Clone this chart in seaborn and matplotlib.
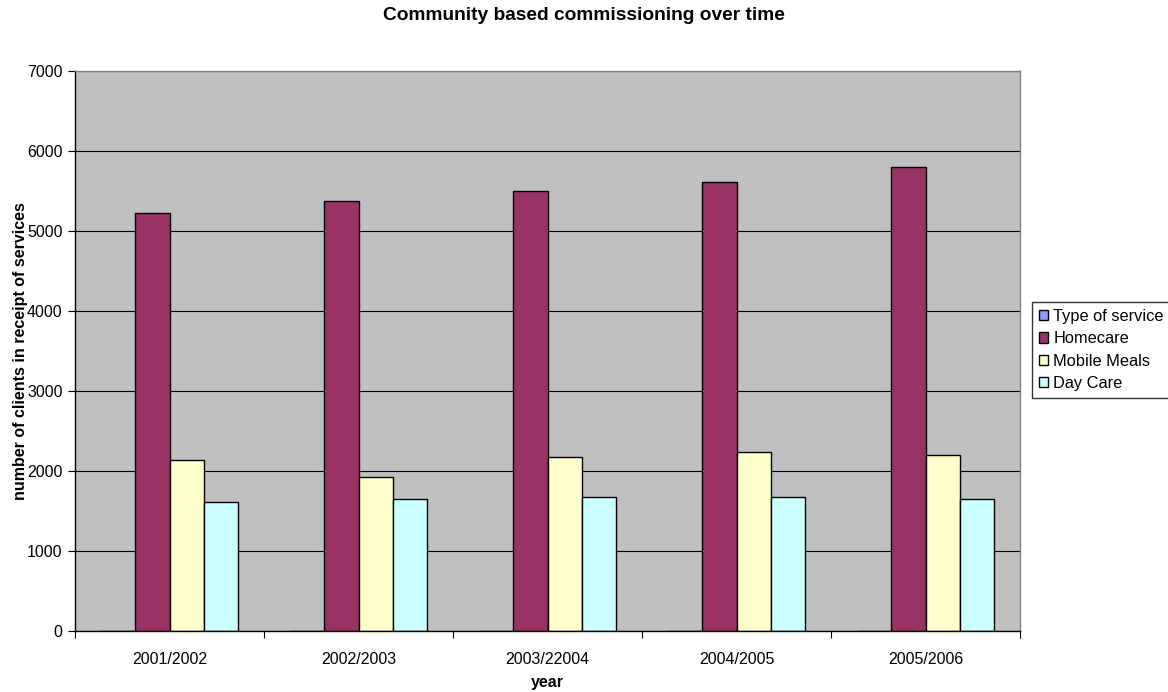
import pandas as pd
import numpy as np
import matplotlib.pyplot as plt
from matplotlib.patches import Patch
import seaborn as sns

# Data
years = ["2001/2002", "2002/2003", "2003/22004", "2004/2005", "2005/2006"]
services = ["Type of service", "Homecare", "Mobile Meals", "Day Care"]
type_of_service = [0, 0, 0, 0, 0]
homecare = [5230, 5375, 5495, 5615, 5805]
mobile_meals = [2140, 1920, 2180, 2235, 2200]
day_care = [1615, 1650, 1678, 1678, 1653]
colors = ["#9999FF", "#993366", "#FFFFCC", "#CCFFFF"]

df = pd.DataFrame({
    "year": years * 4,
    "service": np.repeat(services, len(years)),
    "clients": type_of_service + homecare + mobile_meals + day_care,
})

sns.set_style("white")
plt.rcParams["font.family"] = ["Liberation Sans", "DejaVu Sans"]
plt.rcParams.update({"text.color": "black", "axes.labelcolor": "black",
                     "xtick.color": "black", "ytick.color": "black"})

fig = plt.figure(figsize=(11.68, 6.92), dpi=100)
ax = fig.add_axes([75 / 1168, 61 / 692, 945 / 1168, 560 / 692])
ax.set_facecolor("#C0C0C0")

sns.barplot(data=df, x="year", y="clients", hue="service", order=years,
            hue_order=services, palette=colors, saturation=1, width=0.72,
            edgecolor="black", linewidth=1, legend=False, ax=ax)

# Axes styling, Excel-like
ax.set_ylim(0, 7000)
ax.set_xlim(-0.5, len(years) - 0.5)
ax.set_yticks(range(0, 7001, 1000))
ax.set_axisbelow(True)
ax.yaxis.grid(True, color="black", linewidth=0.8)
ax.set_xticks(np.arange(-0.5, len(years)), labels=[""] * (len(years) + 1))
ax.set_xticks(range(len(years)), labels=years, minor=True)
ax.tick_params(axis="x", which="major", length=5, width=0.8, direction="out", bottom=True)
ax.tick_params(axis="x", which="minor", length=0, pad=15, labelsize=11.5)
ax.tick_params(axis="y", length=5, width=0.8, direction="out", left=True, pad=4, labelsize=11.5)
for side in ["left", "bottom"]:
    ax.spines[side].set_color("black")
    ax.spines[side].set_linewidth(1)
for side in ["top", "right"]:
    ax.spines[side].set_color("#808080")
    ax.spines[side].set_linewidth(1)

ax.set_xlabel("")
ax.set_ylabel("")
fig.text(0.5 * (75 + 1020) / 1168, 1 - 683 / 692, "year", ha="center", va="center",
         fontsize=11.5, fontweight="bold")
fig.text(21 / 1168, 1 - 351 / 692, "number of clients in receipt of services",
         ha="center", va="center", rotation=90, fontsize=11.5, fontweight="bold")

fig.text(0.5, 1 - 15 / 692, "Community based commissioning over time",
         ha="center", va="center", fontsize=13.8, fontweight="bold")

handles = [Patch(facecolor=c, edgecolor="black", linewidth=1) for c in colors]
fig.legend(handles, services, loc="center left", bbox_to_anchor=(1032 / 1168, 1 - 350 / 692),
           fontsize=11.8, frameon=True, fancybox=False, edgecolor="black",
           handlelength=0.6, handleheight=0.6, handletextpad=0.3,
           labelspacing=0.45, borderpad=0.4, borderaxespad=0)

fig.savefig("out.png", dpi=100)
